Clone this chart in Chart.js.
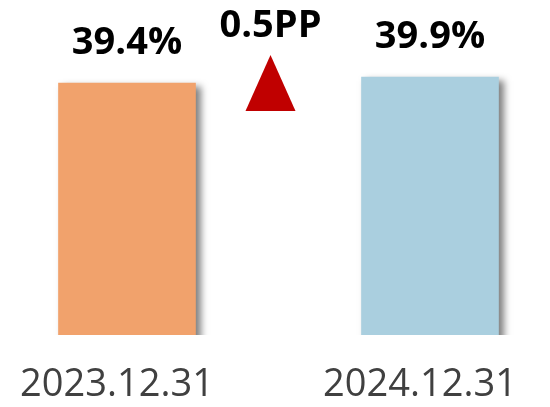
<!DOCTYPE html>
<html>
<head>
<meta charset="utf-8">
<script src="https://cdn.jsdelivr.net/npm/chart.js@4.4.1/dist/chart.umd.min.js"></script>
<style>
  html, body { margin: 0; padding: 0; background: #fff; }
  #wrap { width: 550px; height: 407px; }
</style>
</head>
<body>
<div id="wrap"><canvas id="chart" width="550" height="407"></canvas></div>
<script>
const categories = ["2023.12.31", "2024.12.31"];
const values = [39.4, 39.9];
const barColors = ["#F1A26C", "#AACFDF"];
const changeLabel = "0.5PP";

/* ---------- shadow on bars ---------- */
const barShadow = {
  id: "barShadow",
  beforeDatasetsDraw(chart) {
    const ctx = chart.ctx;
    ctx.save();
    ctx.beginPath();
    ctx.rect(0, 0, chart.width, chart.chartArea.bottom);
    ctx.clip();
    ctx.shadowColor = "rgba(0,0,0,0.5)";
    ctx.shadowBlur = 7;
    ctx.shadowOffsetX = 5;
    ctx.shadowOffsetY = 3;
  },
  afterDatasetsDraw(chart) {
    chart.ctx.restore();
  }
};

/* ---------- value labels + change marker ---------- */
const labelsPlugin = {
  id: "labelsPlugin",
  afterDraw(chart) {
    const ctx = chart.ctx;
    const meta = chart.getDatasetMeta(0);
    ctx.save();
    ctx.fillStyle = "#000";
    ctx.font = "bold 38px 'Open Sans'";
    ctx.textAlign = "center";
    ctx.textBaseline = "alphabetic";
    meta.data.forEach((bar, i) => {
      ctx.fillText(values[i].toFixed(1) + "%", bar.x, bar.y - 29);
    });

    const mid = chart.scales.x.getPixelForValue(0.5) - 8;
    ctx.fillText(changeLabel, mid, 37);

    ctx.fillStyle = "#C00000";
    ctx.beginPath();
    ctx.moveTo(mid, 55);
    ctx.lineTo(mid + 25, 111);
    ctx.lineTo(mid - 25, 111);
    ctx.closePath();
    ctx.fill();
    ctx.restore();
  }
};

new Chart(document.getElementById("chart"), {
  type: "bar",
  data: {
    labels: categories,
    datasets: [{
      data: values,
      backgroundColor: barColors,
      barThickness: 137,
      clip: false
    }]
  },
  options: {
    responsive: false,
    animation: false,
    layout: { padding: { left: 127, right: 120, top: 16, bottom: 0 } },
    plugins: { legend: { display: false }, tooltip: { enabled: false } },
    scales: {
      x: {
        offset: false,
        grid: { display: false, drawTicks: false },
        border: { display: false },
        ticks: {
          color: "#404040",
          font: { family: "'Open Sans'", size: 38, lineHeight: 2.62 },
          padding: 0,
          labelOffset: -10,
          maxRotation: 0,
          autoSkip: false
        },
        afterFit(scale) { scale.height = 72; }
      },
      y: {
        display: false,
        min: 18.4,
        max: 45
      }
    }
  },
  plugins: [barShadow, labelsPlugin]
});
</script>
</body>
</html>
